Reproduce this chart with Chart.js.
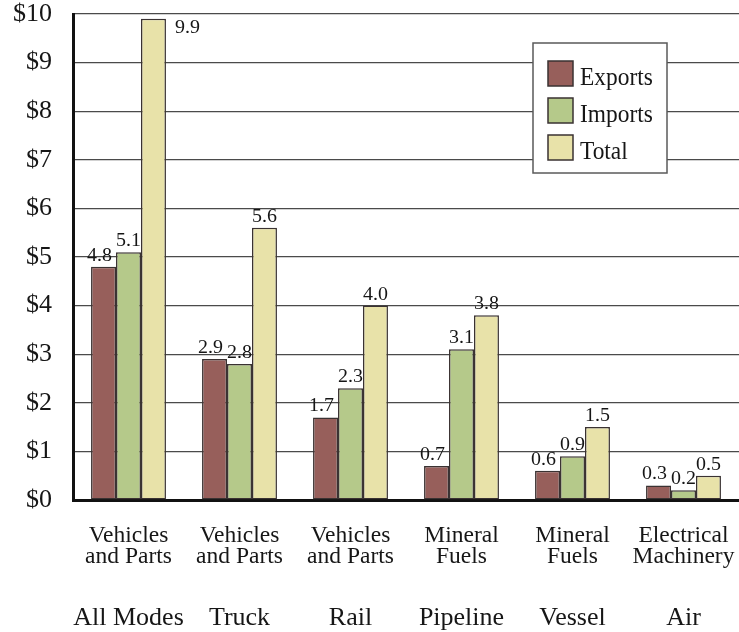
<!DOCTYPE html>
<html>
<head>
<meta charset="utf-8">
<script src="https://cdn.jsdelivr.net/npm/chart.js@4.4.1/dist/chart.umd.min.js"></script>
<style>
  html, body { margin: 0; padding: 0; background: #fff; }
  #c { display: block; }
</style>
</head>
<body>
<canvas id="c" width="739" height="632"></canvas>
<script>
// Top commodity by transportation mode, billions of dollars
const commodities = [
  ["Vehicles", "and Parts"],
  ["Vehicles", "and Parts"],
  ["Vehicles", "and Parts"],
  ["Mineral", "Fuels"],
  ["Mineral", "Fuels"],
  ["Electrical", "Machinery"]
];
const modes = ["All Modes", "Truck", "Rail", "Pipeline", "Vessel", "Air"];
const exportsValues = [4.8, 2.9, 1.7, 0.7, 0.6, 0.3];
const importsValues = [5.1, 2.8, 2.3, 3.1, 0.9, 0.2];
const totalValues = [9.9, 5.6, 4.0, 3.8, 1.5, 0.5];
const seriesNames = ["Exports", "Imports", "Total"];
const yMin = 0, yMax = 10, yStep = 1;

const SERIF = "'Liberation Serif', 'Times New Roman', serif";
const colors = ["#975f5b", "#b5c98a", "#e8e2a9"];
const INK = "#161616";
// horizontal nudge of value labels per series, so neighbours do not collide
const labelNudge = [-4, 0, 0];

// Draws text scaled horizontally by sx, anchored at (x, y)
function drawText(ctx, text, x, y, font, sx, align) {
  ctx.save();
  ctx.font = font;
  ctx.textAlign = align || "center";
  ctx.translate(x, y);
  ctx.scale(sx, 1);
  ctx.fillText(text, 0, 0);
  ctx.restore();
}

const decorations = {
  id: "decorations",
  afterDraw(chart) {
    const ctx = chart.ctx;
    const area = chart.chartArea;
    const xs = chart.scales.x;
    ctx.save();
    ctx.fillStyle = INK;
    ctx.textBaseline = "alphabetic";

    // value labels above each bar (beside it when there is no room above)
    chart.data.datasets.forEach((ds, di) => {
      const meta = chart.getDatasetMeta(di);
      meta.data.forEach((bar, i) => {
        const txt = ds.data[i].toFixed(1);
        const font = "19px " + SERIF;
        if (bar.y - 20 < area.top) {
          drawText(ctx, txt, bar.x + bar.width / 2 + 9, bar.y + 14, font, 1.05, "left");
        } else {
          drawText(ctx, txt, bar.x + labelNudge[di], bar.y - 6, font, 1.05, "center");
        }
      });
    });

    // commodity names and mode names under the axis
    commodities.forEach((lines, i) => {
      const x = xs.getPixelForValue(i);
      drawText(ctx, lines[0], x, area.bottom + 42, "23.5px " + SERIF, 1, "center");
      drawText(ctx, lines[1], x, area.bottom + 63, "23.5px " + SERIF, 1, "center");
      drawText(ctx, modes[i], x, area.bottom + 125, "26px " + SERIF, 1, "center");
    });

    // legend box
    const lx = 533, ly = 43, lw = 134, lh = 130;
    ctx.fillStyle = "#ffffff";
    ctx.fillRect(lx, ly, lw, lh);
    ctx.strokeStyle = "#5a5a5a";
    ctx.lineWidth = 1.5;
    ctx.strokeRect(lx, ly, lw, lh);
    chart.data.datasets.forEach((ds, di) => {
      const sy = ly + 18 + di * 37;
      ctx.fillStyle = ds.backgroundColor;
      ctx.fillRect(lx + 15, sy, 25, 25);
      ctx.strokeStyle = "#3a3232";
      ctx.lineWidth = 1.5;
      ctx.strokeRect(lx + 15, sy, 25, 25);
      ctx.fillStyle = INK;
      drawText(ctx, ds.label, lx + 47, sy + 24, "26px " + SERIF, 0.9, "left");
    });
    ctx.restore();
  }
};

const seriesValues = [exportsValues, importsValues, totalValues];

new Chart(document.getElementById("c"), {
  type: "bar",
  data: {
    labels: commodities,
    datasets: seriesNames.map((name, i) => ({
      label: name,
      data: seriesValues[i],
      backgroundColor: colors[i],
      borderColor: "#3a3232",
      borderWidth: 1.5,
      borderSkipped: false,
      barPercentage: 1.0,
      categoryPercentage: 0.675
    }))
  },
  options: {
    responsive: false,
    animation: false,
    devicePixelRatio: 1,
    layout: { padding: { top: 14, right: 0, bottom: 132, left: 0 } },
    plugins: { legend: { display: false }, tooltip: { enabled: false } },
    scales: {
      x: {
        type: "category",
        grid: { display: false, drawTicks: false },
        border: { display: true, color: "#111", width: 3 },
        ticks: { display: false }
      },
      y: {
        min: yMin,
        max: yMax,
        ticks: {
          stepSize: yStep,
          padding: 21,
          color: INK,
          font: { family: SERIF, size: 26, lineHeight: 1.0 },
          callback: v => "$" + v
        },
        grid: { color: "#4a4a4a", lineWidth: 1.2, drawTicks: false },
        border: { display: true, color: "#111", width: 3 },
        afterFit(scale) {
          scale.width = 73;
          scale.paddingTop = 0;
          scale.paddingBottom = 0;
        }
      }
    }
  },
  plugins: [decorations]
});
</script>
</body>
</html>
